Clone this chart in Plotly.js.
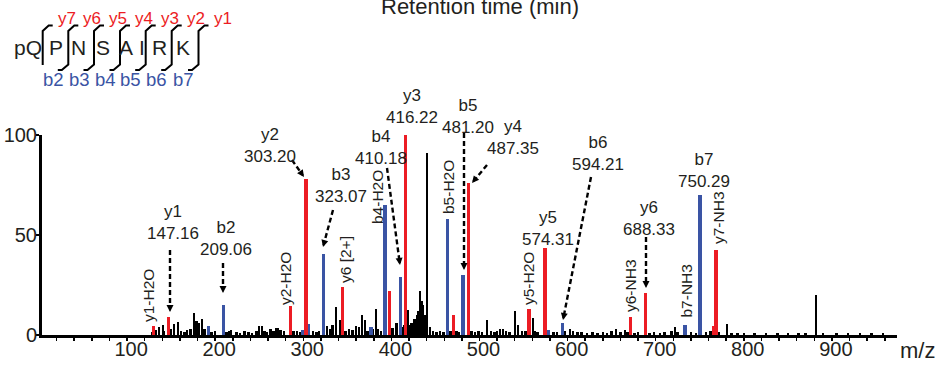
<!DOCTYPE html>
<html><head><meta charset="utf-8">
<script src="https://cdn.plot.ly/plotly-3.0.1.min.js"></script>
<style>html,body{margin:0;padding:0;background:#fff;}#chart{width:941px;height:367px;}</style>
</head><body><div id="chart"></div>
<script>
// ---------------- data ----------------
const redMz  = [130, 147.16, 285.2, 303.20, 344.7, 398.2, 416.22, 470.3, 487.35, 556.3, 574.31, 671.3, 688.33, 765.5, 768.4];
const redInt = [4.5, 9, 14.5, 78, 23.8, 22, 100, 10, 76, 13, 43.5, 9, 21, 4.5, 42.5];
const blueMz  = [192.5, 209.06, 299.7, 306.2, 323.07, 377, 392.7, 410.18, 463.5, 481.20, 578, 594.21, 733.3, 750.29];
const blueInt = [4.5, 15, 2.5, 5.5, 40.6, 4, 65, 29, 58, 30, 2.5, 6, 5, 70];
const blackMz  = [128,133,136,140.7,142,150,153,157.8,161,165,168,172,176,179,181.6,185,188,196,200,213,215.7,218,224,228,233,238,242,247,250,253,256,259,263,266,269,271,274,278,289,293,297,311,315,318,327,330,333,337,341.6,348,352,356,360,363,366.6,370,373,379,382.5,385,388,401,406,412,415,419,421,423,426,429,431,432.5,434,436,438,440.4,444,447,451,455,459,467,474,477,491,495,499,503,508.5,513,517,520,523,526.7,530,534,540,543.7,548,552,560.7,563,566,584,588,597,602.7,606,611,616,622,628,634,640,645,650,655,660,665,668,676,680,693,698,705,710,718,722,725,740,746,757,762,772,781,786,793,800,812,825,838,850,862,870,882,890,905,918,932,945,958];
const blackInt = [1.5,2.5,4,5,2,3,5.5,6.5,2,1.5,2.5,3,11,7,6,8,3,1.5,2,1.5,2,2.5,1.5,1.2,1.8,1.5,1.2,2,4.5,4.5,2,1.5,3,2,3.5,3.5,2.5,1.8,2,2,1.5,2,1.5,2,4.5,3,5,14,7.5,2,3,2.5,4.5,4,10,7.5,2,3,13,3,2,3.5,6,4,5,12.5,5,6,8,10,12,22,17,15,10,91,4,2,1.5,2,1.5,2,2,1.5,2,1.5,2,1.5,7.5,2,1.5,2,3,3,2,1.5,12,5,2,2,8.5,2,1.5,1.5,1.5,2,3,2,1.5,1.5,1.2,1.5,1.2,1.5,1.2,2,3,1.5,2.5,1.5,1.2,1.5,1.2,1.5,1.2,1.5,2,4,1.5,1.5,1,1.5,2,1.5,5.5,1,1.2,0.8,1,1.2,0.8,1,0.8,1,20,0.8,1,0.8,1,0.8,1];

const xTicks = [100,200,300,400,500,600,700,800,900];
const yTicks = [0,50,100];

const ionNames  = ['y1','b2','y2','b3','b4','y3','b5','y4','y5','b6','y6','b7'];
const ionValues = ['147.16','209.06','303.20','323.07','410.18','416.22','481.20','487.35','574.31','594.21','688.33','750.29'];
const sideNames = ['y1-H2O','y2-H2O','y6 [2+]','b4-H2O','b5-H2O','y5-H2O','y6-NH3','b7-NH3','y7-NH3'];

const residues = ['pQ','P','N','S','A','I','R','K'];
const yIonLabels = ['y7','y6','y5','y4','y3','y2','y1'];
const bIonLabels = ['b2','b3','b4','b5','b6','b7'];

// ---------------- layout helpers ----------------
const PL = 42, PW = 855, PT = 135, PH = 200;
const fx = p => (p - PL) / PW;
const fy = p => (PT + PH - p) / PH;
const RED = '#ec1c24', BLUE = '#3a54a4', INK = '#231f20';
const FONT = 'Liberation Sans, Arial, sans-serif';

const annotations = [];
const shapes = [];

// two-line ion labels (pixel centers)
const ionPos = [[173,222],[226,238],[270,145],[341,185],[381,147.5],[411.5,106],[467.5,116],[513,137.5],[548,228],[598,153],[649,218],[704,170]];
ionNames.forEach((n, i) => {
  annotations.push({xref:'paper', yref:'paper', x: fx(ionPos[i][0]), y: fy(ionPos[i][1]),
    xanchor:'center', yanchor:'middle', showarrow:false, text: n + '<br>' + ionValues[i],
    font:{family:FONT, size:17, color:INK}});
});
// rotated labels
const sidePos = [[148,296],[285,279],[345,260],[377,197],[448,187],[528,279],[630,286],[685.5,291],[718,218]];
sideNames.forEach((n, i) => {
  annotations.push({xref:'paper', yref:'paper', x: fx(sidePos[i][0]), y: fy(sidePos[i][1]),
    xanchor:'center', yanchor:'middle', showarrow:false, text: n, textangle:-90,
    font:{family:FONT, size:15.5, color:INK}});
});
// dashed arrows [startX,startY,tipX,tipY]
const arrows = [[170,250,170,312],[223,263,223,293],[292,160,304,177],[333,210,323,247],[387,168,400,265],
  [464,133,464,270],[487,165,472,183],[591,177,563,320],[646,237,646,288]];
arrows.forEach(a => {
  const dx = a[0]-a[2], dy = a[1]-a[3];
  const L = Math.hypot(dx, dy), ux = dx/L, uy = dy/L;
  shapes.push({type:'line', xref:'paper', yref:'paper', x0: fx(a[0]), y0: fy(a[1]),
    x1: fx(a[2]+ux*4), y1: fy(a[3]+uy*4), line:{color:'#000', width:2.4, dash:'5px,3px'}});
  annotations.push({xref:'paper', yref:'paper', x: fx(a[2]), y: fy(a[3]), ax: ux*6, ay: uy*6,
    text:'', showarrow:true, arrowhead:2, arrowsize:0.7, arrowwidth:2, arrowcolor:'#000', standoff:0});
});
// title / axis label
annotations.push({xref:'paper', yref:'paper', x: fx(479.5), y: fy(6), xanchor:'center', yanchor:'middle',
  showarrow:false, text:'Retention time (min)', font:{family:FONT, size:22, color:INK}});
annotations.push({xref:'paper', yref:'paper', x: fx(917), y: fy(350), xanchor:'center', yanchor:'middle',
  showarrow:false, text:'m/z', font:{family:FONT, size:22, color:INK}});

// sequence diagram
const resX = [27.5, 56, 78.5, 102.5, 126, 142, 159, 183];
residues.forEach((r, i) => {
  annotations.push({xref:'paper', yref:'paper', x: fx(resX[i]), y: fy(47.5), xanchor:'center', yanchor:'middle',
    showarrow:false, text:r, font:{family:FONT, size:21, color:INK}});
});
const brX = [42.7, 68.3, 94, 120, 145.7, 171.7, 198.5];
brX.forEach((bx, i) => {
  let d = `M ${fx(bx+10)} ${fy(25.5)} L ${fx(bx+6)} ${fy(25.5)} L ${fx(bx)} ${fy(31)} L ${fx(bx)} ${fy(i===0?65:64.5)}`;
  if (i > 0) d += ` L ${fx(bx-6.5)} ${fy(70)} L ${fx(bx-10.5)} ${fy(70)}`;
  shapes.push({type:'path', xref:'paper', yref:'paper', path:d, line:{color:'#000', width:2}});
  annotations.push({xref:'paper', yref:'paper', x: fx(bx+24), y: fy(18.5), xanchor:'center', yanchor:'middle',
    showarrow:false, text: yIonLabels[i], font:{family:FONT, size:17, color:RED}});
  if (i > 0) annotations.push({xref:'paper', yref:'paper', x: fx(bx-15), y: fy(79.5), xanchor:'center', yanchor:'middle',
    showarrow:false, text: bIonLabels[i-1], font:{family:FONT, size:18.5, color:BLUE}});
});

// ---------------- traces ----------------
const traces = [
  {type:'bar', x: blackMz, y: blackInt, width: 2.8, marker:{color:'#000', line:{width:0}}, hoverinfo:'skip'},
  {type:'bar', x: blueMz, y: blueInt, width: 3.8, marker:{color:BLUE, line:{width:0}}, hoverinfo:'skip'},
  {type:'bar', x: redMz, y: redInt, width: 3.8, marker:{color:RED, line:{width:0}}, hoverinfo:'skip'}
];

const layout = {
  width: 941, height: 367,
  margin: {l: PL, r: 941 - PL - PW, t: PT, b: 367 - PT - PH, pad: 0},
  paper_bgcolor: '#fff', plot_bgcolor: '#fff',
  showlegend: false, barmode: 'overlay', bargap: 0,
  font: {family: FONT, color: INK},
  xaxis: {range: [3.4, 973.9], showgrid: false, zeroline: false, showline: true, linewidth: 3, linecolor: '#000',
    ticks: 'outside', ticklen: 3, tickwidth: 1.5, tickcolor: '#000', tickmode: 'array', tickvals: xTicks,
    ticktext: xTicks.map(String), tickfont: {family: FONT, size: 20, color: INK}, ticklabelshift: 4, ticklabelstandoff: -9,
    minor: {dtick: 20, tick0: 0, ticks: 'outside', ticklen: 3, tickwidth: 1.5, tickcolor: '#000'}},
  yaxis: {range: [0, 100], showgrid: false, zeroline: false, showline: true, linewidth: 3, linecolor: '#000',
    ticks: 'outside', ticklen: 3, tickwidth: 1.5, tickcolor: '#000', tickmode: 'array', tickvals: yTicks,
    ticktext: yTicks.map(String), tickfont: {family: FONT, size: 20, color: INK}, ticklabelstandoff: -5},
  annotations: annotations,
  shapes: shapes
};

Plotly.newPlot('chart', traces, layout, {displayModeBar: false, staticPlot: true});
</script>
</body></html>
